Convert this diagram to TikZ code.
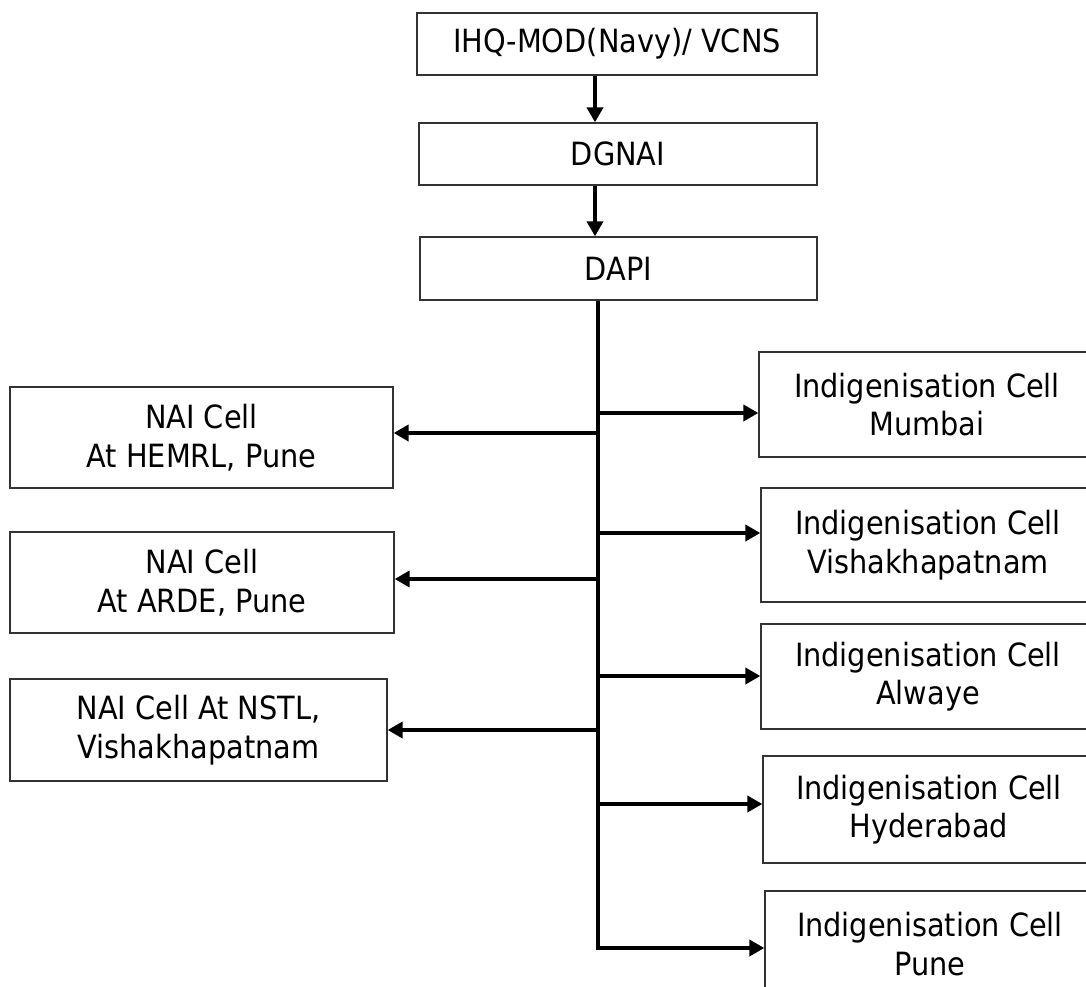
\documentclass[tikz,border=0pt]{standalone}
\usepackage{fontspec}
\setmainfont{DejaVu Sans Condensed}
\usetikzlibrary{arrows.meta}
\begin{document}
\begin{tikzpicture}[x=1pt,y=-1pt,
  box/.style={draw=black!80, line width=1.3pt, rectangle, inner sep=0pt, align=center, font=\fontsize{32}{38.5}\selectfont},
  arr/.style={line width=4.2pt, -{Triangle[length=15pt,width=16pt]}},
  ln/.style={line width=4.2pt}]
\useasboundingbox (0,0) rectangle (1086,987);
\clip (0,0) rectangle (1086,987);
% top chain
\node[box, minimum width=400pt, minimum height=62pt] (ihq) at (617,44) {IHQ-MOD(Navy)/ VCNS};
\node[box, minimum width=398pt, minimum height=62pt] (dgnai) at (618,154) {DGNAI};
\node[box, minimum width=397pt, minimum height=63pt] (dapi) at (618.5,268.5) {DAPI};
% left boxes
\node[box, minimum width=383pt, minimum height=101pt] (hemrl) at (201.5,437.5) {NAI Cell\\At HEMRL, Pune};
\node[box, minimum width=384pt, minimum height=101pt] (arde) at (202,582.5) {NAI Cell\\At ARDE, Pune};
\node[box, minimum width=377pt, minimum height=102pt] (nstl) at (198.5,730) {NAI Cell At NSTL,\\Vishakhapatnam};
% right boxes
\node[box, minimum width=336pt, minimum height=105pt] (mumbai) at (927,404.5) {Indigenisation Cell\\Mumbai};
\node[box, minimum width=334pt, minimum height=114pt] (vizag) at (928,545) {Indigenisation Cell\\Vishakhapatnam};
\node[box, minimum width=334pt, minimum height=105pt] (alwaye) at (928,676.5) {Indigenisation Cell\\Alwaye};
\node[box, minimum width=332pt, minimum height=107pt] (hyd) at (929,809.5) {Indigenisation Cell\\Hyderabad};
\node[box, minimum width=330pt, minimum height=106pt] (pune) at (930,944) {Indigenisation Cell\\Pune};
% guide coordinates
\coordinate (ax) at (595,0);
\coordinate (tx) at (598,0);
\coordinate (bL1) at (598,433);
\coordinate (bL2) at (598,579);
\coordinate (bL3) at (598,730);
\coordinate (bR1) at (598,413);
\coordinate (bR2) at (598,533);
\coordinate (bR3) at (598,676);
\coordinate (bR4) at (598,804);
\coordinate (bR5) at (598,948);
% connectors
\draw[arr] (ihq.south -| ax) -- (dgnai.north -| ax);
\draw[arr] (dgnai.south -| ax) -- (dapi.north -| ax);
\draw[arr] (dapi.south -| tx) -- (bR5) -- (bR5 -| pune.west);
\draw[arr] (bL1) -- (bL1 -| hemrl.east);
\draw[arr] (bL2) -- (bL2 -| arde.east);
\draw[arr] (bL3) -- (bL3 -| nstl.east);
\draw[arr] (bR1) -- (bR1 -| mumbai.west);
\draw[arr] (bR2) -- (bR2 -| vizag.west);
\draw[arr] (bR3) -- (bR3 -| alwaye.west);
\draw[arr] (bR4) -- (bR4 -| hyd.west);
\end{tikzpicture}
\end{document}
